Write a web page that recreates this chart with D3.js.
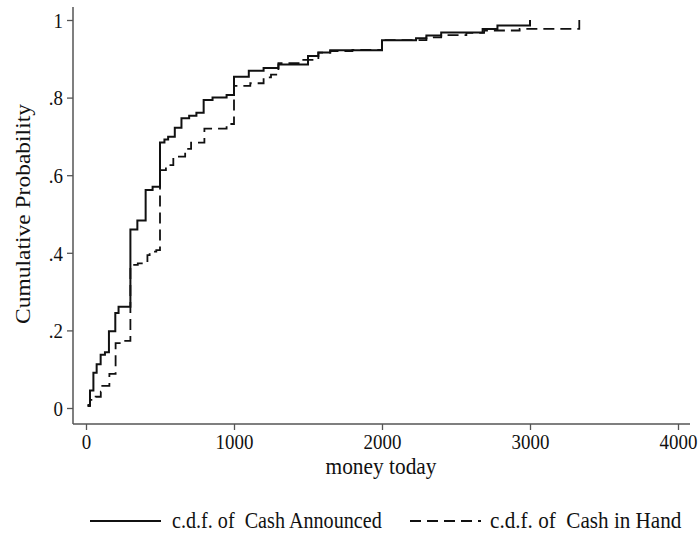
<!DOCTYPE html>
<html><head><meta charset="utf-8">
<script src="https://cdn.jsdelivr.net/npm/d3@7"></script>
<style>body{margin:0;background:#fff}svg{display:block}text{font-family:"Liberation Serif","Times New Roman",serif;fill:#111}</style>
</head><body>
<svg id="chart" width="700" height="538"></svg>
<script>
// Cash Announced: [money today, cumulative probability]
const announcedX = [10,27,50,72,99,128,155,198,220,300,347,403,450,500,530,555,600,645,697,746,795,855,950,1000,1100,1200,1300,1500,1570,1650,2000,2230,2300,2400,2680,2780,3000];
const announcedP = [0.008,0.045,0.091,0.113,0.137,0.144,0.198,0.245,0.261,0.46,0.483,0.562,0.570,0.684,0.692,0.699,0.722,0.747,0.753,0.761,0.794,0.800,0.807,0.854,0.869,0.876,0.885,0.907,0.916,0.922,0.948,0.953,0.960,0.968,0.977,0.986,1.0];
// Cash in Hand
const handX = [10,27,65,100,110,158,200,250,300,350,415,430,475,500,540,590,670,710,800,950,1000,1110,1200,1250,1300,1450,1570,1650,1800,2000,2300,2400,2570,2690,2930,3333];
const handP = [0.005,0.021,0.029,0.042,0.057,0.088,0.167,0.173,0.369,0.373,0.394,0.403,0.407,0.613,0.626,0.648,0.668,0.684,0.72,0.732,0.830,0.837,0.852,0.859,0.889,0.897,0.916,0.920,0.923,0.948,0.955,0.961,0.967,0.973,0.977,1.0];
const xTicks = [0,1000,2000,3000,4000];
const yTicks = [0,0.2,0.4,0.6,0.8,1];
const yTickLabels = ["0",".2",".4",".6",".8","1"];
const seriesNames = ["c.d.f. of  Cash Announced","c.d.f. of  Cash in Hand"];

const svg = d3.select("#chart");
const x = d3.scaleLinear().domain([0,4000]).range([86,678]);
const y = d3.scaleLinear().domain([0,1]).range([408,20]);
const axisColor = "#555";
const SX = 0.86; // horizontal squeeze of the glyphs
const axisY = 424;

// y axis
const yAxis = svg.append("g").attr("transform","translate(73,0)")
  .call(d3.axisLeft(y).tickValues(yTicks).tickFormat((d,i)=>yTickLabels[i]).tickSize(6).tickSizeOuter(0));
yAxis.select(".domain").remove();
yAxis.append("line").attr("x1",0).attr("x2",0).attr("y1",7).attr("y2",axisY).attr("stroke",axisColor).attr("stroke-width",1.5);
yAxis.selectAll(".tick line").attr("stroke",axisColor).attr("stroke-width",1.3);
yAxis.selectAll(".tick text").attr("x",0).attr("dy","0.33em").attr("font-size",22)
  .attr("transform",`translate(-10,0) scale(${SX},1)`).style("font-family","Liberation Serif").attr("fill","#111");

// x axis
const xAxis = svg.append("g").attr("transform",`translate(0,${axisY})`)
  .call(d3.axisBottom(x).tickValues(xTicks).tickFormat(d3.format("d")).tickSize(6).tickSizeOuter(0));
xAxis.select(".domain").remove();
xAxis.append("line").attr("x1",73).attr("x2",690).attr("y1",0).attr("y2",0).attr("stroke",axisColor).attr("stroke-width",1.5);
xAxis.selectAll(".tick line").attr("stroke",axisColor).attr("stroke-width",1.3);
xAxis.selectAll(".tick text").attr("y",0).attr("dy",0).attr("font-size",22)
  .attr("transform",`translate(0,25) scale(${SX},1)`).style("font-family","Liberation Serif").attr("fill","#111");

// titles
svg.append("text").attr("transform","translate(381,474) scale(0.93,1)").attr("text-anchor","middle").attr("font-size",23).text("money today");
svg.append("text").attr("transform","translate(30,214) scale(0.87,1) rotate(-90)").attr("text-anchor","middle").attr("font-size",23.5).text("Cumulative Probability");

// lines
const line = d3.line().x(d=>x(d[0])).y(d=>y(d[1])).curve(d3.curveStepAfter);
const announced = announcedX.map((v,i)=>[v,announcedP[i]]);
const hand = handX.map((v,i)=>[v,handP[i]]);
svg.append("path").datum(hand).attr("d",line).attr("fill","none").attr("stroke","#111").attr("stroke-width",1.8).attr("stroke-dasharray","11,6");
svg.append("path").datum(announced).attr("d",line).attr("fill","none").attr("stroke","#111").attr("stroke-width",2);

// legend
const lg = svg.append("g");
lg.append("line").attr("x1",90).attr("x2",161).attr("y1",521).attr("y2",521).attr("stroke","#111").attr("stroke-width",2);
lg.append("text").attr("transform","translate(172,528) scale(0.876,1)").attr("font-size",23).style("white-space","pre").text(seriesNames[0]);
lg.append("line").attr("x1",410).attr("x2",481).attr("y1",521).attr("y2",521).attr("stroke","#111").attr("stroke-width",1.8).attr("stroke-dasharray","11,6");
lg.append("text").attr("transform","translate(490,528) scale(0.92,1)").attr("font-size",23).style("white-space","pre").text(seriesNames[1]);
</script>
</body></html>
